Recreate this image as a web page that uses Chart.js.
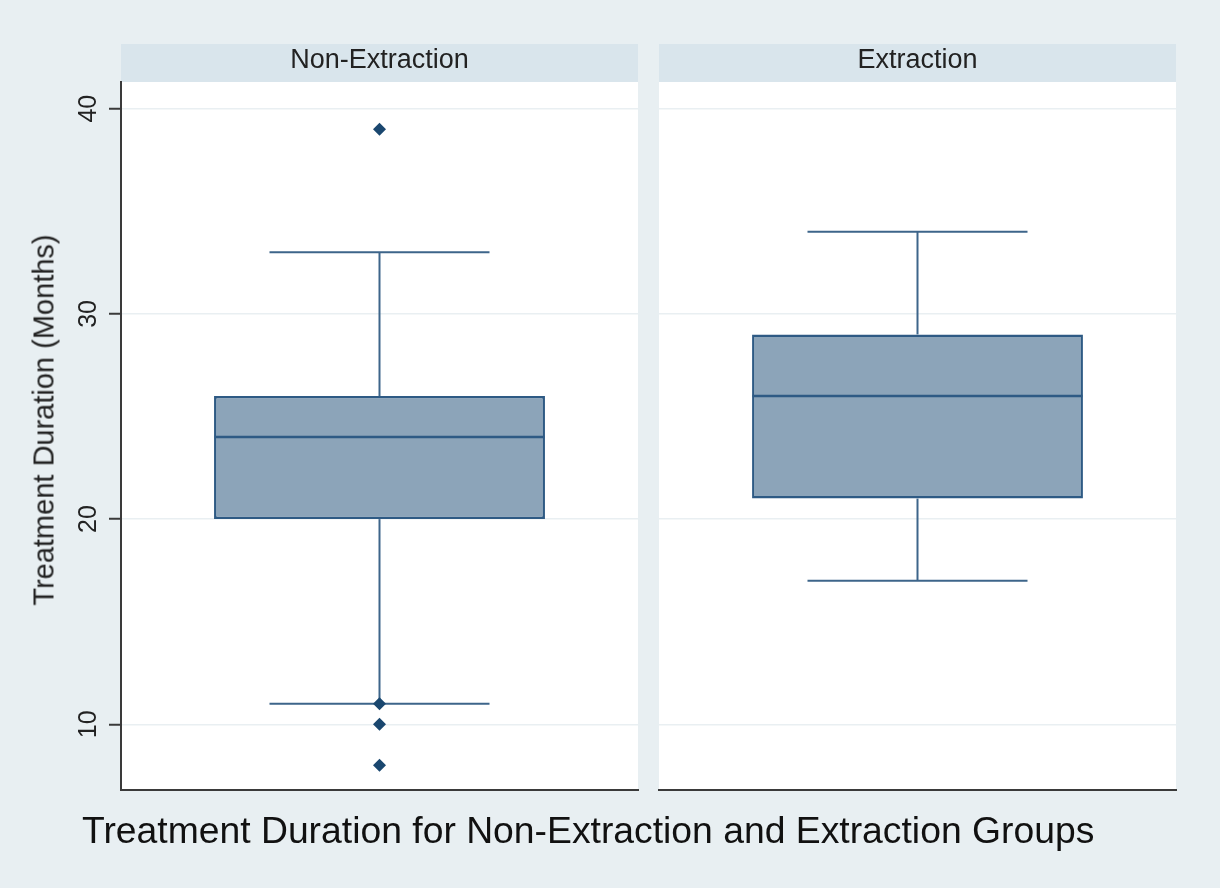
<!DOCTYPE html>
<html>
<head>
<meta charset="utf-8">
<script src="https://cdn.jsdelivr.net/npm/chart.js@4/dist/chart.umd.min.js"></script>
<style>
  html, body { margin: 0; padding: 0; }
  body { width: 1220px; height: 888px; background: #e8eff2; position: relative; overflow: hidden;
         font-family: "Liberation Sans", Arial, sans-serif; }
  canvas { position: absolute; top: 0; }
  #c0 { left: 0; }
  #c1 { left: 650px; }
  #ytitle { position: absolute; left: 44px; top: 420px; transform: translate(-50%, -50%) rotate(-90deg);
            font-size: 29px; line-height: 1; white-space: nowrap; color: #222; }
  #caption { position: absolute; left: 82px; top: 812px; font-size: 37.3px; line-height: 1;
             white-space: nowrap; color: #111; }
</style>
</head>
<body>
<canvas id="c0" width="640" height="888"></canvas>
<canvas id="c1" width="530" height="888"></canvas>
<div id="ytitle">Treatment Duration (Months)</div>
<div id="caption">Treatment Duration for Non-Extraction and Extraction Groups</div>
<script>
// ---- data ----
const categories = ['Non-Extraction', 'Extraction'];
const lowerWhisker = [11, 17];
const q1 = [20, 21];
const median = [24, 26];
const q3 = [26, 29];
const upperWhisker = [33, 34];
const outliers = [[39, 11, 10, 8], []];
const yTicks = [10, 20, 30, 40];
const yMin = 6.8, yMax = 41.3;

// ---- styles ----
const BOX_FILL = '#8ca4b9';
const BOX_EDGE = '#2e5a84';
const WHISKER = '#3d658a';
const MARKER = '#1a476f';
const STRIP = '#d9e5ec';
const GRID = '#e9eff2';
const AXIS = '#3a3a3a';

const panelPlugin = {
  id: 'panelPlugin',
  beforeDraw(chart) {
    const { ctx, chartArea } = chart;
    const tb = chart.titleBlock;
    ctx.save();
    ctx.fillStyle = '#ffffff';
    ctx.fillRect(chartArea.left, chartArea.top, chartArea.right - chartArea.left, chartArea.bottom - chartArea.top);
    ctx.fillStyle = STRIP;
    ctx.fillRect(chartArea.left, tb.top, chartArea.right - chartArea.left, tb.bottom - tb.top);
    ctx.restore();
  }
};

function makePanel(i, canvasId, isFirst) {
  const cat = categories[i];
  const datasets = [
    {
      type: 'line', label: 'outliers', order: 1, showLine: false,
      data: outliers[i].map(v => ({ x: cat, y: v })),
      pointStyle: 'rectRot', pointRadius: 6.5, pointBackgroundColor: MARKER,
      pointBorderColor: MARKER, pointBorderWidth: 0, clip: false
    },
    {
      type: 'line', label: 'caps', order: 2, showLine: false,
      data: [{ x: cat, y: upperWhisker[i] }, { x: cat, y: lowerWhisker[i] }],
      pointStyle: 'line', pointRadius: 110, pointBorderColor: WHISKER, pointBorderWidth: 2
    },
    {
      type: 'line', label: 'median', order: 3, showLine: false,
      data: [{ x: cat, y: median[i] }],
      pointStyle: 'line', pointRadius: 165, pointBorderColor: BOX_EDGE, pointBorderWidth: 2.5
    },
    {
      type: 'line', label: 'upper whisker', order: 4,
      data: [{ x: cat, y: q3[i] }, { x: cat, y: upperWhisker[i] }],
      borderColor: WHISKER, borderWidth: 2, pointRadius: 0
    },
    {
      type: 'line', label: 'lower whisker', order: 4,
      data: [{ x: cat, y: lowerWhisker[i] }, { x: cat, y: q1[i] }],
      borderColor: WHISKER, borderWidth: 2, pointRadius: 0
    },
    {
      type: 'bar', label: 'box', order: 5,
      data: [[q1[i], q3[i]]],
      backgroundColor: BOX_FILL, borderColor: BOX_EDGE, borderWidth: 2.5, borderSkipped: false,
      barPercentage: 0.64, categoryPercentage: 1, grouped: false
    }
  ];

  return new Chart(document.getElementById(canvasId), {
    type: 'bar',
    data: { labels: [cat], datasets },
    plugins: [panelPlugin],
    options: {
      responsive: false,
      animation: false,
      devicePixelRatio: 1,
      layout: { autoPadding: false, padding: { top: 44, bottom: 90, left: 0, right: isFirst ? 2 : 4 } },
      plugins: {
        legend: { display: false },
        tooltip: { enabled: false },
        title: {
          display: true, text: cat, fullSize: false, color: '#222',
          font: { family: '"Liberation Sans", Arial, sans-serif', size: 27, weight: 'normal', lineHeight: 1.2 },
          padding: { top: 0, bottom: 5.6 }
        }
      },
      scales: {
        x: {
          type: 'category',
          offset: true,
          grid: { display: false },
          ticks: { display: false },
          border: { display: true, color: AXIS, width: 2 }
        },
        y: {
          type: 'linear',
          min: yMin, max: yMax,
          afterBuildTicks: (scale) => { scale.ticks = yTicks.map(v => ({ value: v })); },
          afterFit: (scale) => { scale.width = isFirst ? 121 : 9; },
          grid: {
            color: GRID, lineWidth: 1.5,
            drawTicks: isFirst, tickLength: 12, tickColor: AXIS, tickWidth: 2
          },
          border: { display: isFirst, color: AXIS, width: 2 },
          ticks: {
            display: isFirst, minRotation: 90, maxRotation: 90, crossAlign: 'center', padding: 6,
            color: '#222',
            font: { family: '"Liberation Sans", Arial, sans-serif', size: 25 }
          }
        }
      }
    }
  });
}

makePanel(0, 'c0', true);
makePanel(1, 'c1', false);
</script>
</body>
</html>
